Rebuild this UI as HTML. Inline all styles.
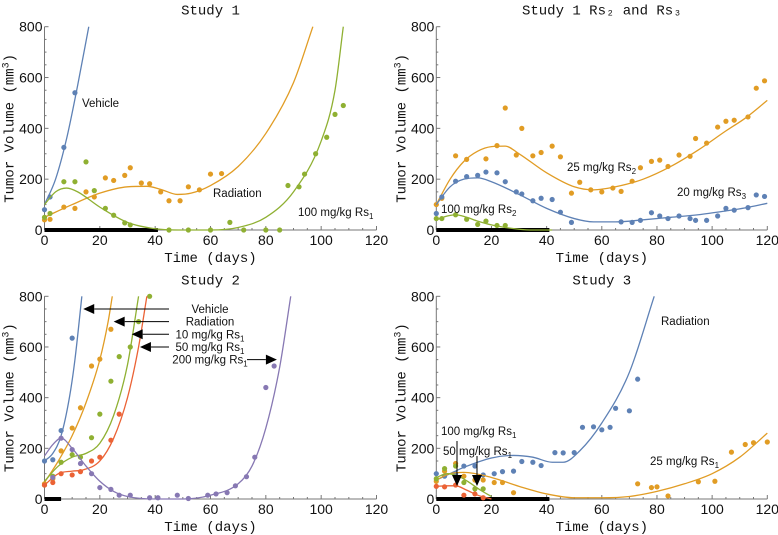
<!DOCTYPE html>
<html><head><meta charset="utf-8"><style>
body{margin:0;background:#fff}
svg{display:block}
.tk{font-family:"Liberation Sans",sans-serif;font-size:14px;fill:#111}
.ttl{font-family:"Liberation Mono",monospace;font-size:14px;fill:#111}
.lb{font-family:"Liberation Sans",sans-serif;font-size:11.5px;fill:#111}
</style></head><body>
<svg id="c" width="778" height="535" viewBox="0 0 778 535" xmlns="http://www.w3.org/2000/svg"></svg>
<script>
// ---- data ----
const xTicks=[0,20,40,60,80,100,120];
const yTicks=[0,200,400,600,800];
// Study 1
const s1VehPts=[[0,80],[2,130],[7,325],[11,540]];
const s1VehFit=[[0,100],[4,200],[8,360],[12,570],[16,800]];
const s1RadPts=[[0,40],[2,42],[7,90],[11,85],[15,150],[18,130],[22,205],[25,195],[29,215],[31,245],[35,185],[38,182],[42,150],[45,115],[49,115],[52,170],[56,158],[60,220],[64,222]];
const s1RadFit=[[0,50],[10,100],[20,145],[30,170],[37,172],[42,160],[48,140],[53,145],[60,175],[70,250],[80,380],[90,580],[97,800]];
const s1GrnPts=[[0,50],[2,65],[7,190],[11,190],[15,268],[18,155],[22,85],[25,58],[29,28],[31,20],[45,0],[52,0],[60,0],[67,30],[72,0],[80,0],[85,0],[88,175],[92,170],[94,220],[98,300],[102,365],[105,455],[108,490]];
const s1GrnFit=[[0,100],[4,150],[8,165],[12,150],[20,90],[30,30],[40,5],[50,0],[60,0],[70,10],[80,50],[90,150],[100,350],[105,550],[108,800]];
// Study 1 Rs2/Rs3
const s2OrPts=[[0,100],[2,125],[7,292],[11,278],[18,280],[22,332],[25,480],[29,295],[31,400],[35,292],[38,305],[42,330],[45,288],[49,145],[52,188],[56,158],[60,150],[64,165],[67,152],[71,192],[74,245],[78,270],[81,275],[84,250],[88,295],[92,290],[94,360],[98,342],[102,405],[105,428],[108,432],[113,445],[116,558],[119,587]];
const s2OrFit=[[0,100],[5,200],[10,270],[15,310],[20,328],[25,330],[30,300],[40,225],[50,170],[57,158],[65,170],[75,200],[85,250],[95,315],[105,390],[112,440],[120,510]];
const s2BlPts=[[0,65],[2,130],[7,192],[11,210],[15,215],[18,228],[22,225],[25,190],[29,150],[31,142],[35,115],[38,125],[42,120],[45,70],[49,30],[67,32],[71,30],[74,38],[78,68],[81,55],[84,45],[88,55],[92,45],[94,38],[98,38],[102,55],[105,85],[108,78],[113,88],[116,138],[119,132]];
const s2BlFit=[[0,100],[5,170],[10,200],[15,205],[20,190],[30,140],[40,85],[50,45],[57,32],[65,32],[75,40],[85,50],[95,60],[105,75],[112,87],[120,105]];
const s2GrPts=[[0,45],[2,45],[7,60],[11,42],[15,22],[18,35],[22,18],[25,18]];
const s2GrFit=[[0,40],[4,55],[7,60],[11,50],[15,35],[20,20],[25,10],[30,3],[35,0],[42,0]];
// Study 2
const s3VehPts=[[0,150],[3,155],[6,270],[10,635]];
const s3VehFit=[[0,150],[3,180],[6,250],[9,400],[11,550],[13.5,800]];
const s3RadPts=[[0,60],[3,80],[6,190],[10,280],[13,360],[17,525],[20,552],[24,670]];
const s3RadFit=[[0,65],[5,150],[10,250],[15,380],[20,550],[23,700],[24.5,800]];
const s3GrPts=[[0,55],[3,90],[6,145],[10,175],[13,165],[17,242],[20,335],[24,465],[27,562],[31,600],[34,700],[38,800]];
const s3GrFit=[[0,70],[5,130],[10,165],[15,180],[20,220],[25,330],[30,530],[34,800]];
const s3RdPts=[[0,55],[3,65],[6,100],[10,95],[13,108],[17,150],[20,165],[24,232],[27,335]];
const s3RdFit=[[0,55],[5,100],[10,110],[14,115],[20,150],[25,240],[30,400],[34,600],[37,800]];
const s3PuPts=[[3,85],[6,240],[10,195],[13,140],[17,100],[20,45],[24,38],[27,15],[31,15],[38,5],[41,5],[48,15],[52,2],[59,15],[62,20],[66,25],[69,52],[73,88],[76,165],[80,440],[83,525]];
const s3PuFit=[[0,170],[3,215],[6,240],[10,200],[15,130],[20,70],[25,30],[30,10],[40,0],[50,0],[60,15],[70,60],[75,130],[80,280],[85,520],[89,800]];
// Study 3
const s4BlPts=[[0,100],[3,90],[7,100],[10,130],[14,130],[17,95],[21,100],[24,108],[28,110],[31,148],[35,145],[38,132],[43,183],[46,182],[50,183],[53,283],[57,285],[60,273],[63,283],[65,358],[70,348],[73,473]];
const s4BlFit=[[0,75],[5,100],[10,125],[20,162],[28,172],[35,165],[42,145],[46,145],[52,190],[60,300],[70,500],[79,800]];
const s4OrPts=[[0,70],[3,110],[7,140],[10,90],[14,75],[17,75],[21,65],[24,65],[28,25],[73,60],[78,45],[80,48],[84,12],[95,68],[101,70],[107,185],[112,215],[115,222],[120,225]];
const s4OrFit=[[0,75],[5,100],[10,105],[20,85],[30,50],[40,20],[50,5],[60,5],[70,10],[80,30],[90,60],[100,100],[110,165],[120,260]];
const s4GrPts=[[0,80],[3,120],[7,130],[10,65],[14,40],[17,40]];
const s4GrFit=[[0,85],[4,100],[8,90],[12,65],[16,35],[20,10]];
const s4RdPts=[[0,50],[3,48],[7,55],[10,15],[14,20],[17,5]];
const s4RdFit=[[0,50],[4,52],[7,52],[11,35],[15,15],[20,0]];

const BL='#5E81B5',OR='#E19C24',GR='#8FB032',RD='#EB6235',PU='#8778B3';
const NS='http://www.w3.org/2000/svg';
const svg=document.getElementById('c');
function mk(tag,at,parent){const e=document.createElementNS(NS,tag);for(const k in at)e.setAttribute(k,at[k]);(parent||svg).appendChild(e);return e;}

const panels=[
 {name:'study-1',title:'Study 1',x0:44.5,x1:376.5,y0:230,y1:26.7,bar:41,
  series:[['vehicle',BL,s1VehPts,s1VehFit],['radiation',OR,s1RadPts,s1RadFit],['rs1-100',GR,s1GrnPts,s1GrnFit]]},
 {name:'study-1-rs2-rs3',title:'Study 1 Rs\u2082 and Rs\u2083',x0:436.3,x1:767.3,y0:230,y1:26.7,bar:41,
  series:[['rs2-25',OR,s2OrPts,s2OrFit],['rs3-20',BL,s2BlPts,s2BlFit],['rs2-100',GR,s2GrPts,s2GrFit]]},
 {name:'study-2',title:'Study 2',x0:44.5,x1:376.5,y0:499,y1:296.3,bar:6,
  series:[['vehicle',BL,s3VehPts,s3VehFit],['radiation',OR,s3RadPts,s3RadFit],['rs1-10',GR,s3GrPts,s3GrFit],['rs1-50',RD,s3RdPts,s3RdFit],['rs1-200',PU,s3PuPts,s3PuFit]]},
 {name:'study-3',title:'Study 3',x0:436.3,x1:767.3,y0:499,y1:296.3,bar:41,
  series:[['radiation',BL,s4BlPts,s4BlFit],['rs1-25',OR,s4OrPts,s4OrFit],['rs1-50',GR,s4GrPts,s4GrFit],['rs1-100',RD,s4RdPts,s4RdFit]]}
];

// monotone cubic (Fritsch-Carlson) in pixel space
function monotone(p){const n=p.length;if(n<2)return '';
 const d=[],m=[];for(let i=0;i<n-1;i++)d.push((p[i+1][1]-p[i][1])/(p[i+1][0]-p[i][0]));
 m[0]=d[0];m[n-1]=d[n-2];
 for(let i=1;i<n-1;i++){m[i]=(d[i-1]*d[i]<=0)?0:(d[i-1]+d[i])/2;}
 for(let i=0;i<n-1;i++){if(d[i]===0){m[i]=0;m[i+1]=0;continue;}
  const a=m[i]/d[i],b=m[i+1]/d[i],s=a*a+b*b;if(s>9){const t=3/Math.sqrt(s);m[i]=t*a*d[i];m[i+1]=t*b*d[i];}}
 let s='M'+p[0][0]+','+p[0][1];
 for(let i=0;i<n-1;i++){const h=(p[i+1][0]-p[i][0])/3;
  s+=' C'+(p[i][0]+h)+','+(p[i][1]+m[i]*h)+' '+(p[i+1][0]-h)+','+(p[i+1][1]-m[i+1]*h)+' '+p[i+1][0]+','+p[i+1][1];}
 return s;}

panels.forEach(P=>{
 const g=mk('g',{});
 
 
 const sx=v=>P.x0+(P.x1-P.x0)*v/120, sy=v=>P.y0+(P.y1-P.y0)*v/800;
 const cx=(P.x0+P.x1)/2;
 const t=mk('text',{x:cx,y:P.y1-12,'text-anchor':'middle',class:'ttl'},g);t.textContent=P.title;
 
 const xl=mk('text',{x:cx,y:P.y0+32,'text-anchor':'middle',class:'ttl'},g);xl.textContent='Time (days)';
 
 const yl=mk('text',{x:0,y:0,'text-anchor':'middle',class:'ttl',transform:'translate('+(P.x0-31)+','+((P.y0+P.y1)/2)+') rotate(-90)'},g);
 yl.innerHTML='Tumor Volume (mm<tspan dy="-5" font-size="10">3</tspan><tspan dy="5">)</tspan>';
 
 const ax=mk('g',{stroke:'#777','stroke-width':1},g);
 
 mk('line',{x1:P.x0,y1:P.y0,x2:P.x1,y2:P.y0},ax);
 mk('line',{x1:P.x0,y1:P.y0,x2:P.x0,y2:P.y1},ax);
 for(let v=0;v<=120;v+=5){const X=sx(v);mk('line',{x1:X,y1:P.y0,x2:X,y2:P.y0-(v%20==0?4:2)},ax);}
 for(let v=0;v<=800;v+=50){const Y=sy(v);mk('line',{x1:P.x0,y1:Y,x2:P.x0+(v%200==0?4:2),y2:Y},ax);}
 xTicks.forEach(v=>{const e=mk('text',{x:sx(v),y:P.y0+15,'text-anchor':'middle',class:'tk'},g);e.textContent=v;
  });
 yTicks.forEach(v=>{const e=mk('text',{x:P.x0-2,y:sy(v)+5,'text-anchor':'end',class:'tk'},g);e.textContent=v;
  });
 const b=mk('rect',{x:sx(0),y:P.y0-2,width:sx(P.bar)-sx(0),height:4,fill:'#000'},g);
 
 P.series.forEach(([nm,col,pts,fit])=>{
  const sg=mk('g',{},g);
  
  const path=mk('path',{d:monotone(fit.map(p=>[sx(p[0]),sy(p[1])])),fill:'none',stroke:col,'stroke-width':1.3},sg);
  
  pts.forEach(p=>{const c=mk('circle',{cx:sx(p[0]),cy:sy(p[1]),r:2.6,fill:col},sg);
   });
 });
 P.sx=sx;P.sy=sy;P.g=g;
});

function label(P,x,y,html,anchor){const e=mk('text',{x:x,y:y,class:'lb','text-anchor':anchor||'start'},P.g);e.innerHTML=html;
 return e;}
const sub=n=>'<tspan dy="3" font-size="8">'+n+'</tspan>';
label(panels[0],82,107,'Vehicle');
label(panels[0],213,197,'Radiation');
label(panels[0],298,216,'100 mg/kg Rs'+sub(1));
label(panels[1],567,171,'25 mg/kg Rs'+sub(2));
label(panels[1],677,196,'20 mg/kg Rs'+sub(3));
label(panels[1],441,213,'100 mg/kg Rs'+sub(2));
label(panels[3],661,325,'Radiation');
label(panels[3],650,465,'25 mg/kg Rs'+sub(1));
label(panels[3],441,435,'100 mg/kg Rs'+sub(1));
label(panels[3],443,455,'50 mg/kg Rs'+sub(1));
const P2=panels[2];
function arrow(P,x1,y1,x2,y2){const g=mk('g',{},P.g);
 
 const dx=x2-x1,dy=y2-y1,L=Math.hypot(dx,dy),ux=dx/L,uy=dy/L,h=11,w=5;
 mk('line',{x1:x1,y1:y1,x2:x2-ux*h,y2:y2-uy*h,stroke:'#000','stroke-width':1},g);
 mk('polygon',{points:(x2)+','+(y2)+' '+(x2-ux*h-uy*w)+','+(y2-uy*h+ux*w)+' '+(x2-ux*h+uy*w)+','+(y2-uy*h-ux*w),fill:'#000'},g);}
arrow(P2,169,P2.sy(750),P2.sx(14),P2.sy(750));
arrow(P2,169,P2.sy(700),P2.sx(25),P2.sy(700));
arrow(P2,169,P2.sy(650),P2.sx(31.5),P2.sy(650));
arrow(P2,169,P2.sy(600),P2.sx(34.5),P2.sy(600));
arrow(P2,247,P2.sy(550),P2.sx(84),P2.sy(550));
label(P2,210,P2.sy(750)+4,'Vehicle','middle');
label(P2,210,P2.sy(700)+4,'Radiation','middle');
label(P2,210,P2.sy(650)+4,'10 mg/kg Rs'+sub(1),'middle');
label(P2,210,P2.sy(600)+4,'50 mg/kg Rs'+sub(1),'middle');
label(P2,210,P2.sy(550)+4,'200 mg/kg Rs'+sub(1),'middle');
const P3=panels[3];
arrow(P3,457,441,457,486);
arrow(P3,477,456,477,486);
</script>
</body></html>
